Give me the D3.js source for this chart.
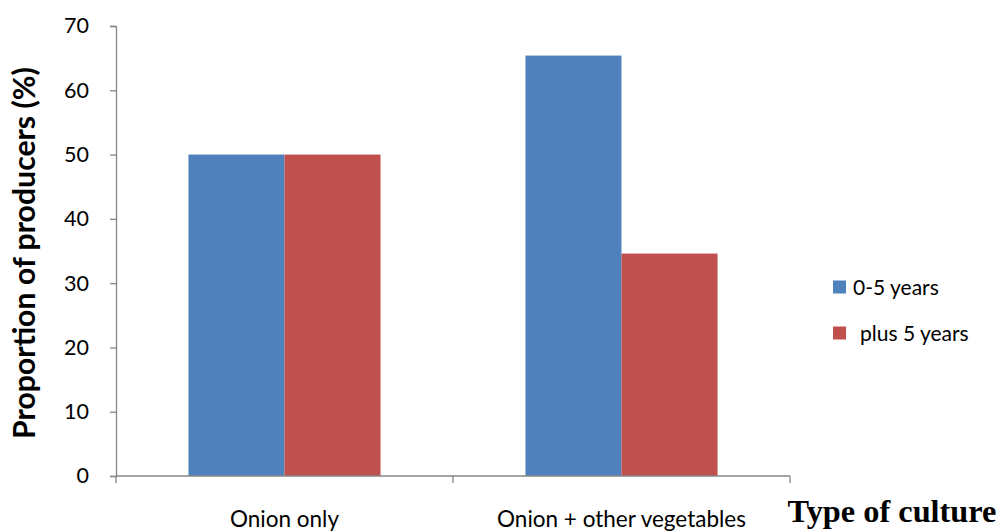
<!DOCTYPE html>
<html><head><meta charset="utf-8">
<script src="https://cdn.jsdelivr.net/npm/d3@7"></script>
<style>body{margin:0;background:#fff}svg{display:block}</style>
</head><body>
<script>
const categories = ["Onion only", "Onion + other vegetables"];
const seriesNames = ["0-5 years", "plus 5 years"];
const series0 = [50, 65.4];
const series1 = [50, 34.6];
const yTicks = [0, 10, 20, 30, 40, 50, 60, 70];
const colors = ["#4F81BD", "#C0504D"];

(function () {
const W = 998, H = 532;
const mLeft = 116, mRight = 790, mTop = 26, mBottom = 476;
const svg = d3.select("body").append("svg").attr("width", W).attr("height", H);
const sans = "Lato, 'Open Sans', sans-serif";

function fit(sel, target) {
  const fs = parseFloat(sel.style("font-size"));
  const len = sel.node().getComputedTextLength();
  if (len > 0) sel.style("font-size", (fs * target / len).toFixed(2) + "px");
}

const y = d3.scaleLinear().domain([0, 70]).range([mBottom, mTop]);
const x0 = d3.scaleBand().domain(categories).range([mLeft, mRight]).padding(0);
const x1 = d3.scaleBand().domain(seriesNames)
  .range([x0.bandwidth() * 0.215, x0.bandwidth() * 0.785]).padding(0);

const data = categories.map((c, i) => ({cat: c, vals: [series0[i], series1[i]]}));

svg.append("g").selectAll("g.cat").data(data).join("g").attr("class", "cat")
  .attr("transform", d => `translate(${x0(d.cat)},0)`)
  .selectAll("rect").data(d => d.vals.map((v, j) => ({v, j})))
  .join("rect")
  .attr("x", d => x1(seriesNames[d.j]))
  .attr("width", x1.bandwidth())
  .attr("y", d => y(d.v))
  .attr("height", d => mBottom - y(d.v))
  .attr("fill", d => colors[d.j]);

const axisColor = "#868686";
const yAxis = svg.append("g").attr("transform", `translate(${mLeft},0)`)
  .call(d3.axisLeft(y).tickValues(yTicks).tickSize(6).tickPadding(21));
yAxis.select(".domain").attr("stroke", axisColor).attr("stroke-width", 1.3);
yAxis.selectAll(".tick line").attr("stroke", axisColor).attr("stroke-width", 1.3);
yAxis.selectAll(".tick text").attr("fill", "#000")
  .style("font-family", sans).style("font-size", "21.5px");

const xAxisG = svg.append("g").attr("transform", `translate(0,${mBottom})`);
xAxisG.append("line").attr("x1", mLeft).attr("x2", mRight).attr("y1", 0).attr("y2", 0)
  .attr("stroke", axisColor).attr("stroke-width", 1.3);
const boundaries = categories.map(c => x0(c)).concat([x0(categories[categories.length - 1]) + x0.bandwidth()]);
xAxisG.selectAll("line.tk").data(boundaries).join("line").attr("class", "tk")
  .attr("x1", d => d).attr("x2", d => d).attr("y1", 0).attr("y2", 7)
  .attr("stroke", axisColor).attr("stroke-width", 1.3);
xAxisG.selectAll("text.cl").data(categories).join("text").attr("class", "cl")
  .attr("x", d => x0(d) + x0.bandwidth() / 2).attr("y", 51)
  .attr("text-anchor", "middle")
  .style("font-family", sans).style("font-size", "22.5px")
  .text(d => d);

const yt = svg.append("text")
  .attr("transform", "translate(35,253) rotate(-90)")
  .attr("text-anchor", "middle")
  .style("font-family", sans).style("font-weight", "bold").style("font-size", "24px")
  .text("Proportion of producers (%)");
fit(yt, 372);
const xt = svg.append("text").attr("x", 892).attr("y", 522).attr("text-anchor", "middle")
  .style("font-family", "'Liberation Serif', 'Times New Roman', serif").style("font-weight", "bold").style("font-size", "30px")
  .text("Type of culture");
fit(xt, 209);

const legend = svg.append("g");
const legY = [287, 333];
const legX = [853, 860];
seriesNames.forEach((s, i) => {
  legend.append("rect").attr("x", 833).attr("y", legY[i] - 6.5).attr("width", 13).attr("height", 13).attr("fill", colors[i]);
  legend.append("text").attr("x", legX[i]).attr("y", legY[i]).attr("dy", "0.36em")
    .style("font-family", sans).style("font-size", "21px")
    .text(s);
});
})();
</script>
</body></html>
